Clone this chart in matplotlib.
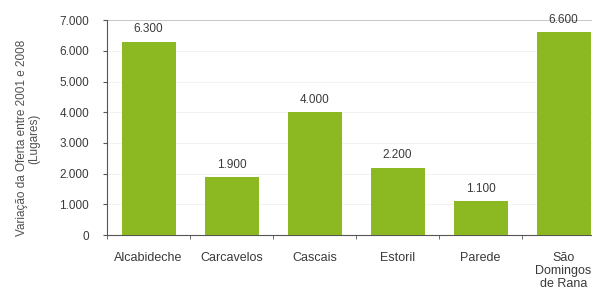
"""Variação da oferta de estacionamento 2001-2008 por freguesia."""
import matplotlib
matplotlib.use("Agg")
import matplotlib.pyplot as plt
import numpy as np
from matplotlib.ticker import FuncFormatter, FixedLocator

plt.rcParams["font.family"] = ["Liberation Sans", "DejaVu Sans"]

freguesias = ["Alcabideche", "Carcavelos", "Cascais", "Estoril", "Parede",
              "São\nDomingos\nde Rana"]
variacao = [6300, 1900, 4000, 2200, 1100, 6600]
y_ticks = [0, 1000, 2000, 3000, 4000, 5000, 6000, 7000]

BAR_COLOR = "#8CB822"
TEXT_COLOR = "#3a3a3a"


def fmt_pt(v, _pos=None):
    return f"{int(v):,}".replace(",", ".")


fig = plt.figure(figsize=(5.92, 2.95), dpi=100)
ax = fig.add_axes([0.181, 0.203, 0.841, 0.729])

x = np.arange(len(freguesias))
bars = ax.bar(x, variacao, width=0.65, color=BAR_COLOR, zorder=3)
for b, v in zip(bars, variacao):
    ax.text(b.get_x() + b.get_width() / 2, v + 200, fmt_pt(v),
            ha="center", va="bottom", fontsize=8.5, color=TEXT_COLOR)

ax.set_xlim(-0.5, len(freguesias) - 0.5)
ax.set_ylim(0, 7000)
ax.set_yticks(y_ticks)
ax.yaxis.set_major_formatter(FuncFormatter(fmt_pt))
ax.set_xticks(x)
ax.set_xticklabels(freguesias, fontsize=9, color=TEXT_COLOR, linespacing=1.15)
ax.xaxis.set_minor_locator(FixedLocator(np.arange(-0.5, len(freguesias), 1.0)))
ax.tick_params(axis="x", which="major", length=0, pad=12)
ax.tick_params(axis="x", which="minor", length=3, color="#555555")
ax.tick_params(axis="y", length=3, color="#555555", labelsize=8.5,
               labelcolor=TEXT_COLOR, pad=10)

ax.grid(axis="y", color="#f0f0f0", linewidth=0.6, zorder=0)
ax.get_ygridlines()[-1].set_color("#bdbdbd")
for side in ("top", "right"):
    ax.spines[side].set_visible(False)
for side in ("left", "bottom"):
    ax.spines[side].set_color("#555555")
    ax.spines[side].set_linewidth(0.8)

ax.set_ylabel("Variação da Oferta entre 2001 e 2008\n(Lugares)",
              fontsize=8.5, color="#505050", linespacing=1.0)
ax.yaxis.set_label_coords(-0.135, 0.45)

fig.savefig("out.png", dpi=100)
